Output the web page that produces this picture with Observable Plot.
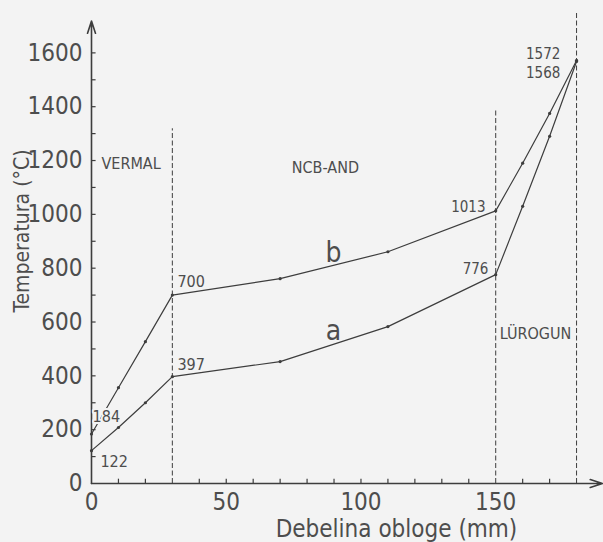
<!DOCTYPE html>
<html>
<head>
<meta charset="utf-8">
<script src="https://cdn.jsdelivr.net/npm/d3@7"></script>
<script src="https://cdn.jsdelivr.net/npm/@observablehq/plot@0.6"></script>
<style>
  html, body { margin: 0; padding: 0; background: #f3f3f3; }
  #chart svg { display: block; }
</style>
</head>
<body>
<div id="chart"></div>
<script>
// ---- data ----
const thickness = [0, 10, 20, 30, 70, 110, 150, 160, 170, 180];
const tempA = [122, 208, 300, 397, 453, 583, 776, 1030, 1290, 1568];
const tempB = [184, 356, 527, 700, 761, 861, 1013, 1190, 1375, 1572];

const yTicks = [0, 200, 400, 600, 800, 1000, 1200, 1400, 1600];
const yMinor = [100, 200, 300, 400, 500, 600, 700, 800, 900, 1000, 1100, 1200, 1300, 1400, 1500, 1600];
const xTicks = [0, 50, 100, 150];
const xMinor = [10, 20, 40, 50, 60, 70, 80, 90, 100, 110, 120, 130, 140, 160, 170];

const boundaryX = [30, 150, 180];
const boundaryTop = [1318, 1385, 1748];

const regionNames = ["VERMAL", "NCB-AND", "LÜROGUN"];
const regionX = [3.7, 86.8, 151.5];
const regionY = [1188, 1173, 557];
const regionAnchor = ["start", "middle", "start"];

const curveNames = ["b", "a"];
const curveX = [89.8, 89.8];
const curveY = [856, 568];

const valueLabels = ["184", "122", "700", "397", "1013", "776", "1572", "1568"];
const valueX = [0.4, 3.3, 31.9, 31.9, 146.2, 147.3, 174, 174];
const valueY = [249, 82, 750, 442, 1028, 798, 1594, 1526];
const valueAnchor = ["start", "start", "start", "start", "end", "end", "end", "end"];

const xTitle = "Debelina obloge (mm)";
const yTitle = "Temperatura (°C)";

// ---- build ----
const ink = "#3d3d3d";
const txt = "#4d4d4d";
const bg = "#f3f3f3";
const font = "'DejaVu Sans Condensed', 'Liberation Sans Narrow', 'DejaVu Sans', sans-serif";

const seriesA = thickness.map((x, i) => ({x, y: tempA[i]}));
const seriesB = thickness.map((x, i) => ({x, y: tempB[i]}));
const regions = regionNames.map((t, i) => ({t, x: regionX[i], y: regionY[i], a: regionAnchor[i]}));
const curves = curveNames.map((t, i) => ({t, x: curveX[i], y: curveY[i]}));
const values = valueLabels.map((t, i) => ({t, x: valueX[i], y: valueY[i], a: valueAnchor[i]}));
const bounds = boundaryX.map((x, i) => ({x, top: boundaryTop[i]}));

const chart = Plot.plot({
  width: 603,
  height: 542,
  marginLeft: 91,
  marginRight: 0,
  marginTop: 12,
  marginBottom: 59,
  x: {domain: [0, 190]},
  y: {domain: [0, 1750]},
  style: {background: bg, color: txt, fontFamily: font},
  marks: [
    // dashed region boundaries
    Plot.ruleX(bounds, {x: "x", y1: 0, y2: "top", stroke: ink, strokeWidth: 1, strokeDasharray: "5,2.5"}),
    // axes with arrowheads
    Plot.arrow([0], {x1: 0, y1: 0, x2: 0, y2: 1718, stroke: ink, strokeWidth: 1.6, headLength: 12, headAngle: 36}),
    Plot.arrow([0], {x1: 0, y1: 0, x2: 189.6, y2: 0, stroke: ink, strokeWidth: 1.6, headLength: 12, headAngle: 36}),
    // inner minor ticks
    Plot.ruleY(yMinor, {y: d => d, x1: 0, x2: 1.7, stroke: ink, strokeWidth: 1.2}),
    Plot.ruleX(xMinor, {x: d => d, y1: 0, y2: 16, stroke: ink, strokeWidth: 1.2}),
    // tick labels
    Plot.axisY({ticks: yTicks, tickSize: 0, tickPadding: 9, fontSize: 24, label: null, tickFormat: d => String(d)}),
    Plot.axisX({ticks: xTicks, tickSize: 0, tickPadding: 9, fontSize: 24, label: null, tickFormat: d => String(d)}),
    // curves
    Plot.line(seriesB, {x: "x", y: "y", stroke: ink, strokeWidth: 1.2}),
    Plot.line(seriesA, {x: "x", y: "y", stroke: ink, strokeWidth: 1.2}),
    Plot.dot(seriesB, {x: "x", y: "y", r: 1.6, fill: ink}),
    Plot.dot(seriesA, {x: "x", y: "y", r: 1.6, fill: ink}),
    // value labels (with background halo)
    Plot.text(values, {filter: d => d.a === "start", x: "x", y: "y", text: "t", textAnchor: "start", fontSize: 16, fill: txt, stroke: bg, strokeWidth: 4}),
    Plot.text(values, {filter: d => d.a === "end", x: "x", y: "y", text: "t", textAnchor: "end", fontSize: 15, fill: txt, stroke: bg, strokeWidth: 4}),
    // region labels
    Plot.text(regions, {filter: d => d.a === "start", x: "x", y: "y", text: "t", textAnchor: "start", fontSize: 16, fill: txt}),
    Plot.text(regions, {filter: d => d.a === "middle", x: "x", y: "y", text: "t", textAnchor: "middle", fontSize: 16, fill: txt}),
    // curve names
    Plot.text(curves, {x: "x", y: "y", text: "t", fontSize: 28, fill: txt}),
    // axis titles
    Plot.text([yTitle], {frameAnchor: "left", text: d => d, textAnchor: "middle", rotate: -90, dx: -69, dy: -17, fontSize: 21, fill: txt}),
    Plot.text([xTitle], {frameAnchor: "bottom", text: d => d, textAnchor: "middle", dx: 49, dy: 53, fontSize: 24, fill: txt})
  ]
});
document.getElementById("chart").appendChild(chart);
</script>
</body>
</html>
